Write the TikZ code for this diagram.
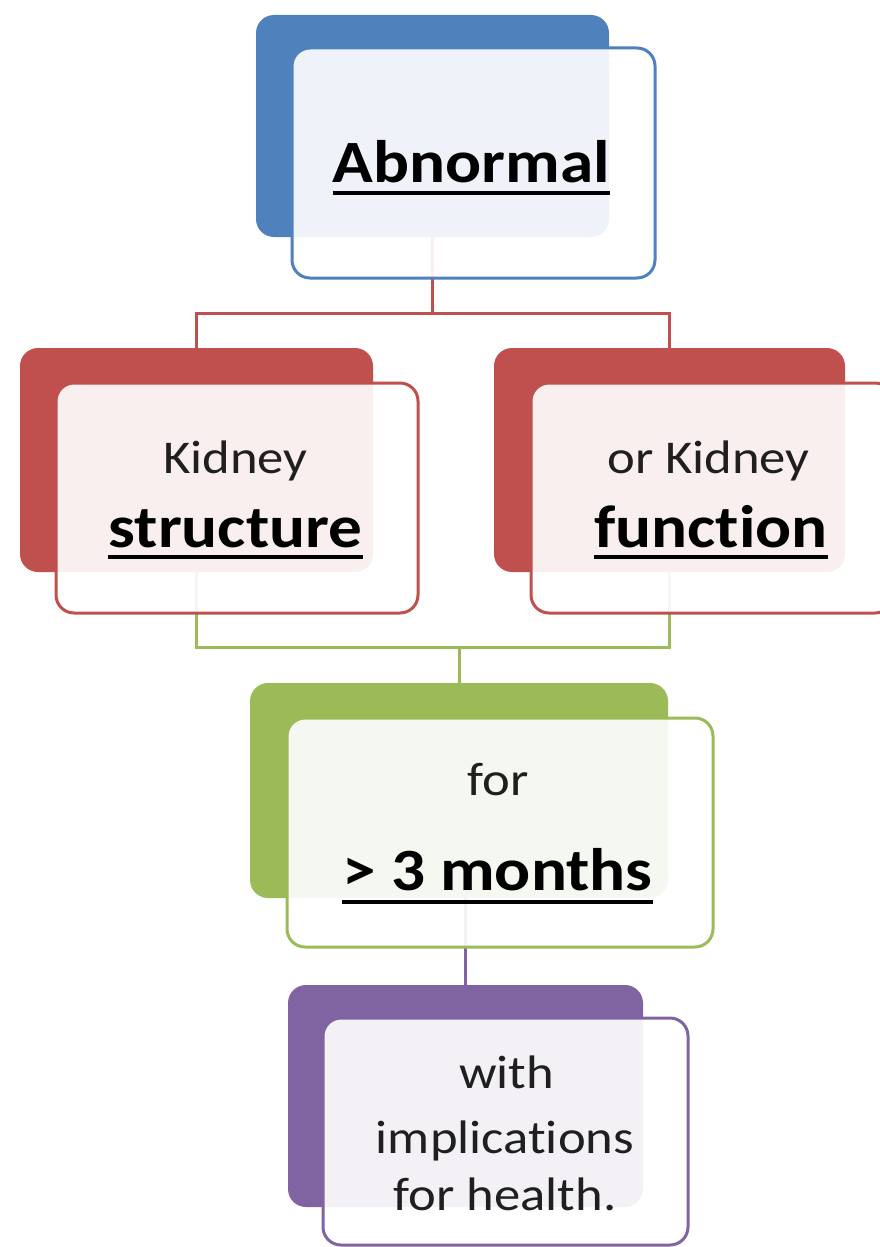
\documentclass[tikz,border=0pt]{standalone}
\usepackage{fontspec}
\setmainfont{Carlito}[FakeStretch=1.12, Ligatures=NoCommon]
\usetikzlibrary{calc}
\definecolor{cblue}{HTML}{4F81BD}
\definecolor{cred}{HTML}{C0504D}
\definecolor{cgreen}{HTML}{9BBB59}
\definecolor{cpurple}{HTML}{8064A2}
\tikzset{
  backbox/.style={rectangle, rounded corners=18pt, fill=#1, draw=none, inner sep=0pt},
  frontbox/.style={rectangle, rounded corners=18pt, draw=#1, line width=3pt, fill=white, fill opacity=0.91, inner sep=0pt},
  conn/.style={draw=#1, line width=3pt},
  reg/.style={anchor=base, inner sep=0pt, font=\fontsize{47}{55}\selectfont, text=black!88},
  bld/.style={anchor=base, inner sep=0pt, font=\fontsize{60}{68}\selectfont\bfseries, text=black},
  uline/.style={line width=3.5pt, black},
}
\begin{document}
\begin{tikzpicture}[x=1pt,y=-1pt]
\clip (0,0) rectangle (880,1247);
\fill[white] (0,0) rectangle (880,1247);
% back boxes
\node[backbox=cblue, minimum width=353pt, minimum height=222pt] (bback) at (432.5,126) {};
\node[backbox=cred, minimum width=353pt, minimum height=224pt] (lback) at (196.5,460) {};
\node[backbox=cred, minimum width=351pt, minimum height=224pt] (rback) at (669.5,460) {};
\node[backbox=cgreen, minimum width=418pt, minimum height=215pt] (gback) at (459,790.5) {};
\node[backbox=cpurple, minimum width=355pt, minimum height=222pt] (pback) at (465.5,1096) {};
% connectors
\coordinate (j1) at (432.5,313);
\coordinate (j2) at (459,647);
\draw[conn=cred] (bback.south) -- (j1);
\draw[conn=cred] (lback.north) |- (j1) -| (rback.north);
\draw[conn=cgreen] (lback.south) |- (j2) -| (rback.south);
\draw[conn=cgreen] (j2) -- (gback.north);
\draw[conn=cpurple] (gback.south -| pback.north) -- (pback.north);
% front boxes
\node[frontbox=cblue, minimum width=363pt, minimum height=230pt] (bfront) at (473.5,163) {};
\node[frontbox=cred, minimum width=362pt, minimum height=230pt] (lfront) at (237,498) {};
\node[frontbox=cred, minimum width=362pt, minimum height=230pt] (rfront) at (712,498) {};
\node[frontbox=cgreen, minimum width=426pt, minimum height=229pt] (gfront) at (500,832.5) {};
\node[frontbox=cpurple, minimum width=365pt, minimum height=227pt] (pfront) at (505.5,1131.5) {};
% texts
\node[bld] (abn) at (471.5,182) {Abnormal};
\draw[uline] ([yshift=-11pt]abn.base west) -- ([yshift=-11pt]abn.base east);
\node[reg] (kid1) at (235.5,473) {Kidney};
\node[bld] (struct) at (235.5,547) {structure};
\draw[uline] ([yshift=-10pt]struct.base west) -- ([yshift=-10pt]struct.base east);
\node[reg] (kid2) at (708.5,473) {or Kidney};
\node[bld] (func) at (711,547) {function};
\draw[uline] ([yshift=-10pt]func.base west) -- ([yshift=-10pt]func.base east);
\node[reg] (for) at (498.5,795) {for};
\node[bld] (months) at (497.5,890) {> 3 months};
\draw[uline] ([yshift=-12pt]months.base west) -- ([yshift=-12pt]months.base east);
\node[reg] (with) at (506.5,1088) {with};
\node[reg] (impl) at (505,1153) {implications};
\node[reg] (health) at (505,1210) {for health.};
\end{tikzpicture}
\end{document}
